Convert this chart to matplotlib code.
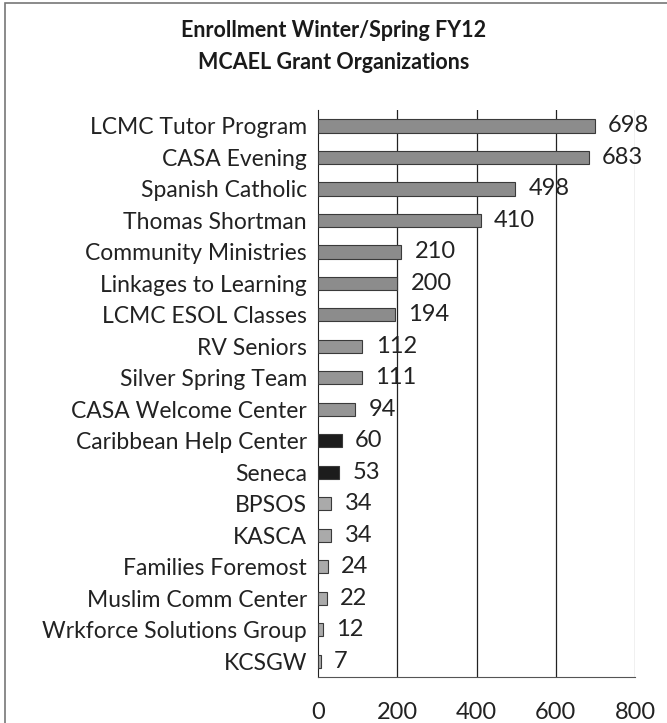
import matplotlib.pyplot as plt
from matplotlib.patches import Rectangle

plt.rcParams['font.family'] = ['Lato', 'DejaVu Sans']

orgs = ['LCMC Tutor Program', 'CASA Evening', 'Spanish Catholic', 'Thomas Shortman',
        'Community Ministries', 'Linkages to Learning', 'LCMC ESOL Classes', 'RV Seniors',
        'Silver Spring Team', 'CASA Welcome Center', 'Caribbean Help Center', 'Seneca',
        'BPSOS', 'KASCA', 'Families Foremost', 'Muslim Comm Center',
        'Wrkforce Solutions Group', 'KCSGW']
enrollment = [698, 683, 498, 410, 210, 200, 194, 112, 111, 94, 60, 53, 34, 34, 24, 22, 12, 7]
bar_colors = ['#8c8c8c'] * 7 + ['#959595'] * 3 + ['#1c1c1c'] * 2 + ['#aaaaaa'] * 6
x_ticks = [0, 200, 400, 600, 800]

fig = plt.figure(figsize=(6.67, 7.23), dpi=100)
ax = fig.add_axes([0.4768, 0.0636, 0.4753, 0.784])

ypos = list(range(len(orgs)))
ax.barh(ypos, enrollment, height=0.42, color=bar_colors, edgecolor='#3a3a3a', linewidth=0.8, zorder=3)
for y, v in zip(ypos, enrollment):
    ax.annotate(str(v), (v, y), xytext=(9.5, 0), textcoords='offset points',
                va='center', ha='left', fontsize=17, color='#222222', zorder=4)

# vertical gridlines, the last one fainter as in the scan
for t in x_ticks[1:]:
    ax.axvline(t, color='#888888' if t == x_ticks[-1] else '#222222', linewidth=0.9, zorder=0)

ax.set_xlim(0, 800)
ax.set_ylim(len(orgs) - 0.5, -0.5)
ax.set_xticks(x_ticks)
ax.set_yticks(ypos)
ax.set_yticklabels(orgs, fontsize=16.5, color='#222222')
ax.tick_params(axis='x', length=0, pad=18, labelsize=17, labelcolor='#222222')
ax.tick_params(axis='y', length=0, pad=8)
for s in ['top', 'right']:
    ax.spines[s].set_visible(False)
ax.spines['left'].set_color('#222222')
ax.spines['bottom'].set_color('#555555')

fig.text(0.5, 0.958, 'Enrollment Winter/Spring FY12', ha='center', va='center',
         fontsize=15.5, fontweight='bold', color='#1a1a1a')
fig.text(0.5, 0.914, 'MCAEL Grant Organizations', ha='center', va='center',
         fontsize=15.5, fontweight='bold', color='#1a1a1a')

# scanned chart border
fig.patches.append(Rectangle((0.008, -0.01), 1.2, 1.006, transform=fig.transFigure,
                             fill=False, edgecolor='#777777', linewidth=1.2))

fig.savefig('out.png', dpi=100, facecolor='white')
